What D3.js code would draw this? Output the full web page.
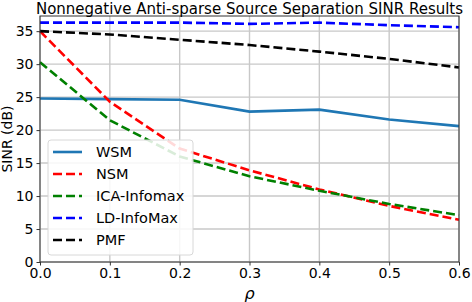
<!DOCTYPE html>
<html>
<head>
<meta charset="utf-8">
<script src="https://cdn.jsdelivr.net/npm/d3@7"></script>
<style>
  body { margin: 0; background: #fff; }
  svg { font-family: "DejaVu Sans", sans-serif; }
</style>
</head>
<body>
<svg id="chart" width="472" height="302"></svg>
<script>
// data
var rho = [0, 0.1, 0.2, 0.3, 0.4, 0.5, 0.6];
var wsm = [24.8, 24.7, 24.6, 22.8, 23.1, 21.6, 20.6];
var nsm = [35.0, 24.3, 17.2, 13.9, 11.0, 8.5, 6.4];
var ica = [30.3, 21.5, 16.0, 13.0, 10.8, 8.8, 7.1];
var ldInfomax = [36.3, 36.3, 36.3, 36.1, 36.3, 35.9, 35.6];
var pmf = [35.0, 34.5, 33.7, 32.9, 31.9, 30.8, 29.5];
var xTicks = [0, 0.1, 0.2, 0.3, 0.4, 0.5, 0.6];
var yTicks = [0, 5, 10, 15, 20, 25, 30, 35];

var series = [
  { name: 'WSM', values: wsm, color: '#1f77b4', dash: null },
  { name: 'NSM', values: nsm, color: '#ff0000', dash: '9,4' },
  { name: 'ICA-Infomax', values: ica, color: '#008000', dash: '9,4' },
  { name: 'LD-InfoMax', values: ldInfomax, color: '#0000ff', dash: '9,4' },
  { name: 'PMF', values: pmf, color: '#000000', dash: '9,4' }
];

var margin = { top: 16, right: 13, bottom: 40, left: 40 },
    width = 472 - margin.left - margin.right,
    height = 302 - margin.top - margin.bottom;

var x = d3.scaleLinear().domain([0, 0.6]).range([0, width]);
var y = d3.scaleLinear().domain([0, 37.3]).range([height, 0]);

var svg = d3.select('#chart')
  .append('g')
  .attr('transform', 'translate(' + margin.left + ',' + margin.top + ')');

// grid
svg.append('g')
  .selectAll('line')
  .data(xTicks)
  .enter().append('line')
  .attr('x1', function(d){ return x(d); })
  .attr('x2', function(d){ return x(d); })
  .attr('y1', 0).attr('y2', height)
  .attr('stroke', '#c8c8c8').attr('stroke-width', 1.4);
svg.append('g')
  .selectAll('line')
  .data(yTicks)
  .enter().append('line')
  .attr('y1', function(d){ return y(d); })
  .attr('y2', function(d){ return y(d); })
  .attr('x1', 0).attr('x2', width)
  .attr('stroke', '#c8c8c8').attr('stroke-width', 1.4);

// lines
var line = d3.line()
  .x(function(d, i){ return x(rho[i]); })
  .y(function(d){ return y(d); });

svg.append('g')
  .selectAll('path')
  .data(series)
  .enter().append('path')
  .attr('d', function(s){ return line(s.values); })
  .attr('fill', 'none')
  .attr('stroke', function(s){ return s.color; })
  .attr('stroke-width', 2.6)
  .attr('stroke-dasharray', function(s){ return s.dash; });

// frame
svg.append('rect')
  .attr('width', width).attr('height', height)
  .attr('fill', 'none').attr('stroke', '#333').attr('stroke-width', 1);

// axes
var xAxis = d3.axisBottom(x).tickValues(xTicks).tickFormat(d3.format('.1f')).tickSize(3.5).tickSizeOuter(0);
var yAxis = d3.axisLeft(y).tickValues(yTicks).tickSize(3.5).tickSizeOuter(0);

var gx = svg.append('g')
  .attr('transform', 'translate(0,' + height + ')')
  .call(xAxis);
var gy = svg.append('g').call(yAxis);
[gx, gy].forEach(function(g){
  g.select('.domain').remove();
  g.selectAll('line').attr('stroke', '#333');
  g.selectAll('text').attr('font-size', 14).attr('fill', '#000')
    .attr('font-family', '"DejaVu Sans", sans-serif');
});

// labels
svg.append('text')
  .attr('x', width / 2).attr('y', -2.5)
  .attr('text-anchor', 'middle')
  .attr('font-size', 15)
  .text('Nonnegative Anti-sparse Source Separation SINR Results');

svg.append('text')
  .attr('x', width / 2).attr('y', height + 37)
  .attr('text-anchor', 'middle')
  .attr('font-size', 16)
  .attr('font-style', 'italic')
  .text('ρ');

svg.append('text')
  .attr('transform', 'rotate(-90)')
  .attr('x', -height / 2).attr('y', -28)
  .attr('text-anchor', 'middle')
  .attr('font-size', 14)
  .text('SINR (dB)');

// legend
var legend = svg.append('g').attr('transform', 'translate(8,124)');
legend.append('rect')
  .attr('width', 145).attr('height', 115)
  .attr('rx', 3)
  .attr('fill', '#fff').attr('fill-opacity', 0.85)
  .attr('stroke', '#d8d8d8');

var items = legend.selectAll('g.item')
  .data(series)
  .enter().append('g')
  .attr('class', 'item')
  .attr('transform', function(d, i){ return 'translate(0,' + (12 + i * 22) + ')'; });
items.append('line')
  .attr('x1', 5).attr('x2', 34)
  .attr('stroke', function(s){ return s.color; })
  .attr('stroke-width', 2.6)
  .attr('stroke-dasharray', function(s){ return s.dash; });
items.append('text')
  .attr('x', 48).attr('y', 5)
  .attr('font-size', 14.5)
  .text(function(s){ return s.name; });
</script>
</body>
</html>
